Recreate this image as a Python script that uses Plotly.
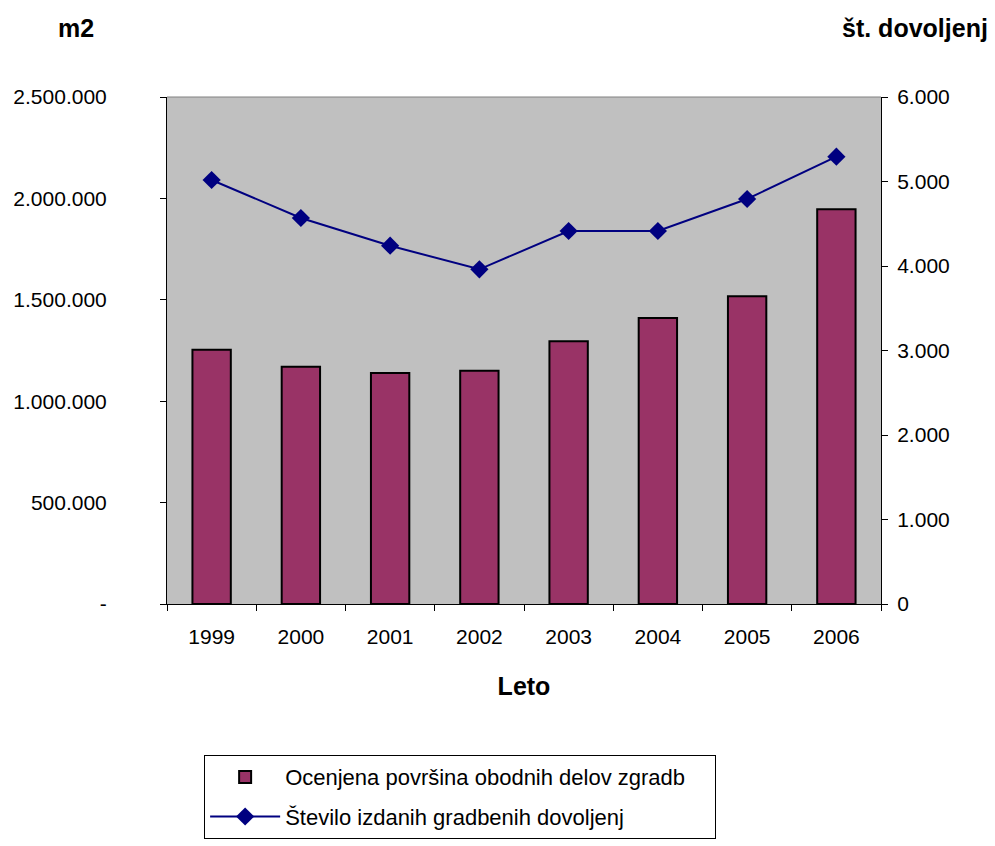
import plotly.graph_objects as go

years = ["1999", "2000", "2001", "2002", "2003", "2004", "2005", "2006"]
area_m2 = [1254000, 1170000, 1139000, 1150000, 1295000, 1410000, 1517000, 1946000]
permits = [5018, 4568, 4240, 3961, 4414, 4414, 4793, 5294]

left_tickvals = [0, 500000, 1000000, 1500000, 2000000, 2500000]
left_ticktext = ["-", "500.000", "1.000.000", "1.500.000", "2.000.000", "2.500.000"]
right_tickvals = [0, 1000, 2000, 3000, 4000, 5000, 6000]
right_ticktext = ["0", "1.000", "2.000", "3.000", "4.000", "5.000", "6.000"]

bar_name = "Ocenjena površina obodnih delov zgradb\u00a0\u00a0\u00a0\u00a0"
line_name = "Število izdanih gradbenih dovoljenj"

FONT = "Liberation Sans, Arial, sans-serif"

fig = go.Figure()
fig.add_trace(go.Bar(
    x=years, y=area_m2, name=bar_name, yaxis="y",
    marker=dict(color="#993366", line=dict(color="black", width=2)),
    legendgroup="a",
))
fig.add_trace(go.Scatter(
    x=years, y=permits, name=line_name, yaxis="y2", mode="lines+markers",
    line=dict(color="#000080", width=2),
    marker=dict(symbol="diamond", size=14, color="#000080"),
    legendgroup="b",
))

fig.update_layout(
    width=995, height=846,
    margin=dict(l=167, r=114, t=97, b=242, autoexpand=False),
    paper_bgcolor="white", plot_bgcolor="#C0C0C0",
    font=dict(family=FONT, size=21, color="black"),
    bargap=0.57,
    showlegend=True,
    legend=dict(
        x=0.052, y=-0.298, xanchor="left", yanchor="top",
        bordercolor="black", borderwidth=1, bgcolor="white",
        font=dict(size=22), traceorder="grouped", tracegroupgap=8,
        itemwidth=70,
    ),
    xaxis=dict(
        type="category", showline=True, linecolor="black", linewidth=1,
        ticks="outside", ticklen=6, tickcolor="black", tickson="boundaries",
        showgrid=False, zeroline=False, ticklabelstandoff=14,
        title=dict(text="<b>Leto</b>", standoff=30, font=dict(size=25)),
    ),
    yaxis=dict(
        range=[0, 2500000], tickvals=left_tickvals, ticktext=left_ticktext,
        showline=True, linecolor="black", linewidth=1,
        ticks="outside", ticklen=6, tickcolor="black",
        showgrid=False, zeroline=False, ticklabelstandoff=49,
    ),
    yaxis2=dict(
        range=[0, 6000], tickvals=right_tickvals, ticktext=right_ticktext,
        overlaying="y", side="right",
        showline=True, linecolor="black", linewidth=1,
        ticks="outside", ticklen=6, tickcolor="black",
        showgrid=False, zeroline=False, ticklabelstandoff=5,
    ),
    shapes=[dict(type="line", xref="paper", yref="paper", x0=0, x1=1, y0=1, y1=1,
                 line=dict(color="#808080", width=1))],
    annotations=[
        dict(text="<b>m2</b>", xref="paper", yref="paper", x=-0.1275, y=1.136,
             xanchor="center", yanchor="middle", showarrow=False, font=dict(size=25)),
        dict(text="<b>št. dovoljenj</b>", xref="paper", yref="paper", x=1.1527, y=1.136,
             xanchor="right", yanchor="middle", showarrow=False, font=dict(size=25)),
    ],
)

fig.write_html("out.html")
